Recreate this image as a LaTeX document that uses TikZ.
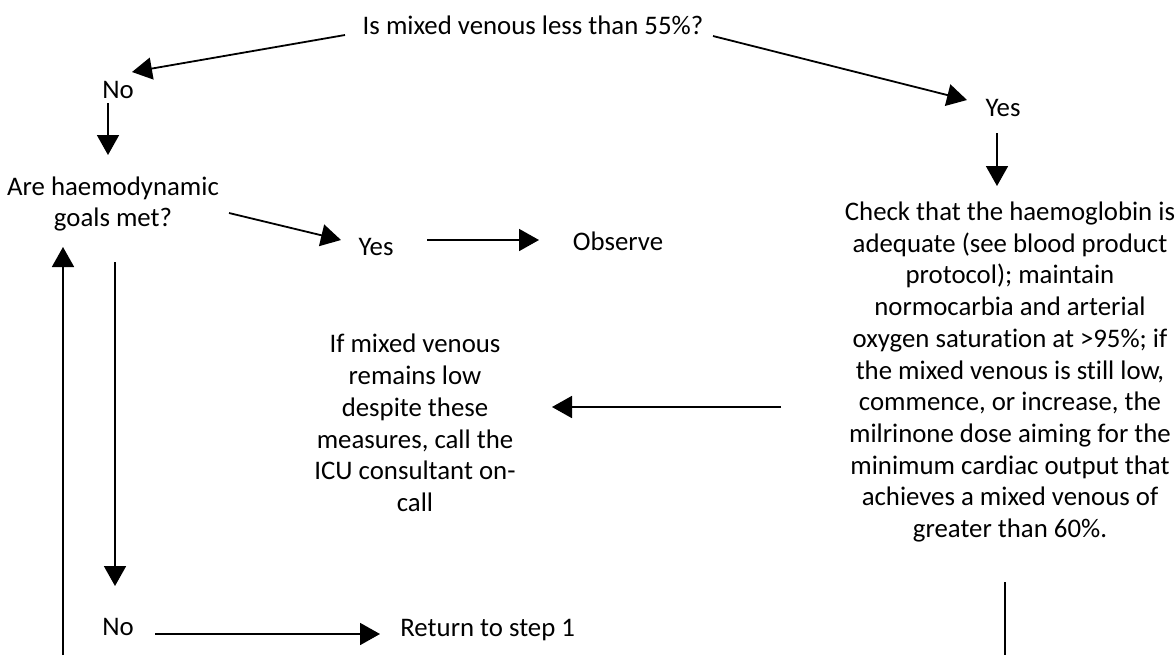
\documentclass[tikz,border=0pt]{standalone}
\usepackage{fontspec}
\setmainfont{Carlito}[Ligatures=NoCommon]
\usetikzlibrary{arrows.meta}
\begin{document}
\begin{tikzpicture}[x=0.5pt,y=-0.5pt,
  lbl/.style={inner sep=0pt, font=\fontsize{13.4}{15.85}\selectfont, align=center},
  arr/.style={line width=0.9pt, -{Triangle[length=10pt,width=11pt]}},
  ln/.style={line width=0.9pt}]
\useasboundingbox (0,0) rectangle (1175,655);
% texts
\node[lbl] (q) at (533,25) {Is mixed venous less than 55\%?};
\node[lbl] (no1) at (118,90) {No};
\node[lbl] (goals) at (113,204) {Are haemodynamic\\goals met?};
\node[lbl] (yes2) at (376,247) {Yes};
\node[lbl] (obs) at (618,241) {Observe};
\node[lbl] (yes1) at (1003,108) {Yes};
\node[lbl] (check) at (1010,372) {Check that the haemoglobin is\\adequate (see blood product\\protocol); maintain\\normocarbia and arterial\\oxygen saturation at >95\%; if\\the mixed venous is still low,\\commence, or increase, the\\milrinone dose aiming for the\\minimum cardiac output that\\achieves a mixed venous of\\greater than 60\%.};
\node[lbl] (ifm) at (415,423) {If mixed venous\\remains low\\despite these\\measures, call the\\ICU consultant on-\\call};
\node[lbl] (no2) at (118,627) {No};
\node[lbl,anchor=west] (ret) at (400,630) {Return to step 1};
% connector end points
\coordinate (qL) at (345,35);
\coordinate (no1T) at (132,72);
\coordinate (qR) at (713,36);
\coordinate (yes1T) at (967,100);
\coordinate (no1B) at (108,103);
\coordinate (goalsT) at (108,155);
\coordinate (yes1B) at (997,133);
\coordinate (checkT) at (997,186);
\coordinate (goalsR) at (229,213);
\coordinate (yes2L) at (341,240);
\coordinate (yes2R) at (427,240);
\coordinate (obsL) at (539,240);
\coordinate (checkL) at (781,407);
\coordinate (ifmR) at (552,407);
\coordinate (goalsB) at (115,262);
\coordinate (no2T) at (115,586);
\coordinate (no2R) at (155,634);
\coordinate (retL) at (380,634);
\coordinate (loopB) at (63,655);
\coordinate (goalsL) at (63,247);
\coordinate (checkB) at (1005,582);
\coordinate (checkBB) at (1005,655);
% connectors
\draw[arr] (qL) -- (no1T);
\draw[arr] (qR) -- (yes1T);
\draw[arr] (no1B) -- (goalsT);
\draw[arr] (yes1B) -- (checkT);
\draw[arr] (goalsR) -- (yes2L);
\draw[arr] (yes2R) -- (obsL);
\draw[arr] (checkL) -- (ifmR);
\draw[arr] (goalsB) -- (no2T);
\draw[arr] (no2R) -- (retL);
\draw[arr] (loopB) -- (goalsL);
\draw[ln] (checkB) -- (checkBB);
\end{tikzpicture}
\end{document}
